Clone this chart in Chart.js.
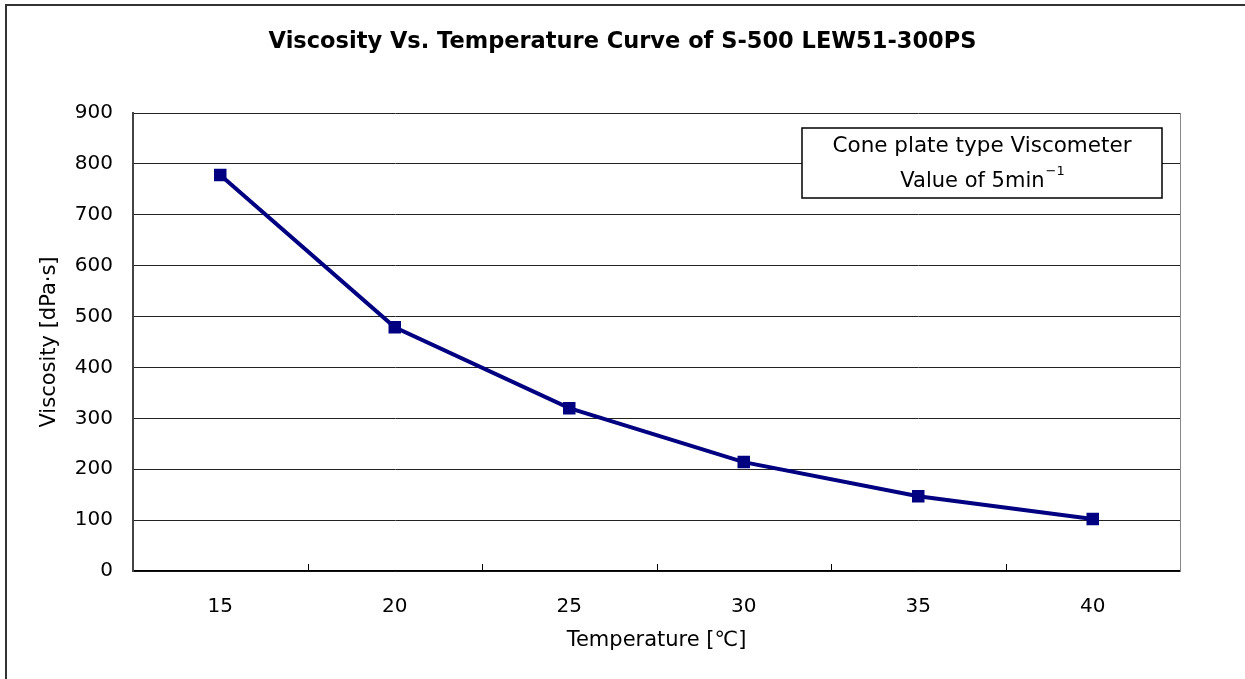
<!DOCTYPE html>
<html>
<head>
<meta charset="utf-8">
<script src="https://cdn.jsdelivr.net/npm/chart.js@4/dist/chart.umd.min.js"></script>
<style>
html,body{margin:0;padding:0;background:#fff;}
#wrap{width:1245px;height:679px;position:relative;}
</style>
</head>
<body>
<div id="wrap"><canvas id="c" width="1245" height="679"></canvas></div>
<script>
const titleText = 'Viscosity Vs. Temperature Curve of S-500 LEW51-300PS';
const categories = ['15', '20', '25', '30', '35', '40'];
const viscosity = [778, 479, 320, 214, 147, 102];
const yTicks = [0, 100, 200, 300, 400, 500, 600, 700, 800, 900];
const xTitle = 'Temperature [℃]';
const yTitle = 'Viscosity [dPa·s]';
const noteLine1 = 'Cone plate type Viscometer';
const noteLine2 = 'Value of 5min';
const noteSup = '−1';

const FONT = "'DejaVu Sans', sans-serif";

const decor = {
  id: 'decor',
  beforeDraw(chart) {
    const ctx = chart.ctx;
    ctx.save();
    ctx.fillStyle = '#fff';
    ctx.fillRect(0, 0, chart.width, chart.height);
    ctx.restore();
  },
  afterDraw(chart) {
    const ctx = chart.ctx;
    const a = chart.chartArea;
    const xs = chart.scales.x;
    ctx.save();
    // outer frame (left and top)
    ctx.strokeStyle = '#333';
    ctx.lineWidth = 2;
    ctx.beginPath();
    ctx.moveTo(6, chart.height);
    ctx.lineTo(6, 5);
    ctx.lineTo(chart.width, 5);
    ctx.stroke();
    // right border of plot
    ctx.strokeStyle = '#888';
    ctx.lineWidth = 1;
    ctx.beginPath();
    ctx.moveTo(Math.round(a.right) + 0.5, a.top);
    ctx.lineTo(Math.round(a.right) + 0.5, a.bottom);
    ctx.stroke();
    // inner tick marks at category boundaries
    ctx.strokeStyle = '#000';
    ctx.lineWidth = 1;
    ctx.beginPath();
    for (let i = 1; i < categories.length; i++) {
      const px = (xs.getPixelForValue(i - 1) + xs.getPixelForValue(i)) / 2;
      const rx = Math.round(px) + 0.5;
      ctx.moveTo(rx, a.bottom);
      ctx.lineTo(rx, a.bottom - 7);
    }
    ctx.stroke();
    // note box
    const bx = 802, by = 128, bw = 360, bh = 70;
    ctx.fillStyle = '#fff';
    ctx.fillRect(bx, by, bw, bh);
    ctx.strokeStyle = '#000';
    ctx.lineWidth = 1.5;
    ctx.strokeRect(bx, by, bw, bh);
    ctx.fillStyle = '#000';
    ctx.font = '21.5px ' + FONT;
    ctx.textAlign = 'center';
    ctx.textBaseline = 'middle';
    const cx = bx + bw / 2;
    ctx.fillText(noteLine1, cx, 146);
    ctx.font = '21px ' + FONT;
    const w2 = ctx.measureText(noteLine2).width;
    ctx.font = '13px ' + FONT;
    const ws = ctx.measureText(noteSup).width;
    const start = cx - (w2 + ws) / 2;
    ctx.textAlign = 'left';
    ctx.font = '21px ' + FONT;
    ctx.fillText(noteLine2, start, 182);
    ctx.font = '13px ' + FONT;
    ctx.fillText(noteSup, start + w2 + 1, 172);
    ctx.restore();
  }
};

new Chart(document.getElementById('c'), {
  type: 'line',
  data: {
    labels: categories,
    datasets: [{
      data: viscosity,
      borderColor: '#000080',
      backgroundColor: '#000080',
      borderWidth: 4,
      pointStyle: 'rect',
      pointRadius: 6,
      pointHoverRadius: 6,
      tension: 0,
      fill: false,
      yAxisID: 'y'
    }]
  },
  options: {
    responsive: false,
    animation: false,
    events: [],
    layout: { padding: 0 },
    plugins: {
      legend: { display: false },
      tooltip: { enabled: false },
      title: {
        display: true,
        text: titleText,
        color: '#000',
        font: { family: FONT, size: 22.5, weight: 'bold' },
        padding: { top: 29, bottom: 57 }
      }
    },
    scales: {
      x: {
        type: 'category',
        offset: true,
        grid: { display: false, offset: true },
        border: { display: true, color: '#000', width: 1.5 },
        ticks: { color: '#000', font: { family: FONT, size: 20 }, padding: 16, maxRotation: 0 },
        title: { display: true, text: xTitle, color: '#000', font: { family: FONT, size: 21 }, padding: { top: 0, bottom: 26 } },
        afterFit(s) { s.height = 108; }
      },
      y: {
        min: 0,
        max: 900,
        afterBuildTicks(s) { s.ticks = yTicks.map(v => ({ value: v })); },
        grid: { color: '#222', lineWidth: 1, drawTicks: false },
        border: { display: true, color: '#444', width: 2 },
        ticks: { color: '#000', font: { family: FONT, size: 20 }, padding: 20 },
        title: { display: true, text: yTitle, color: '#000', font: { family: FONT, size: 21 }, padding: { top: 37, bottom: 0 } },
        afterFit(s) { s.width = 133; }
      },
      yr: {
        position: 'right',
        min: 0,
        max: 900,
        grid: { display: false, drawTicks: false },
        border: { display: false },
        ticks: { display: false },
        afterFit(s) { s.width = 65; }
      }
    }
  },
  plugins: [decor]
});
</script>
</body>
</html>
